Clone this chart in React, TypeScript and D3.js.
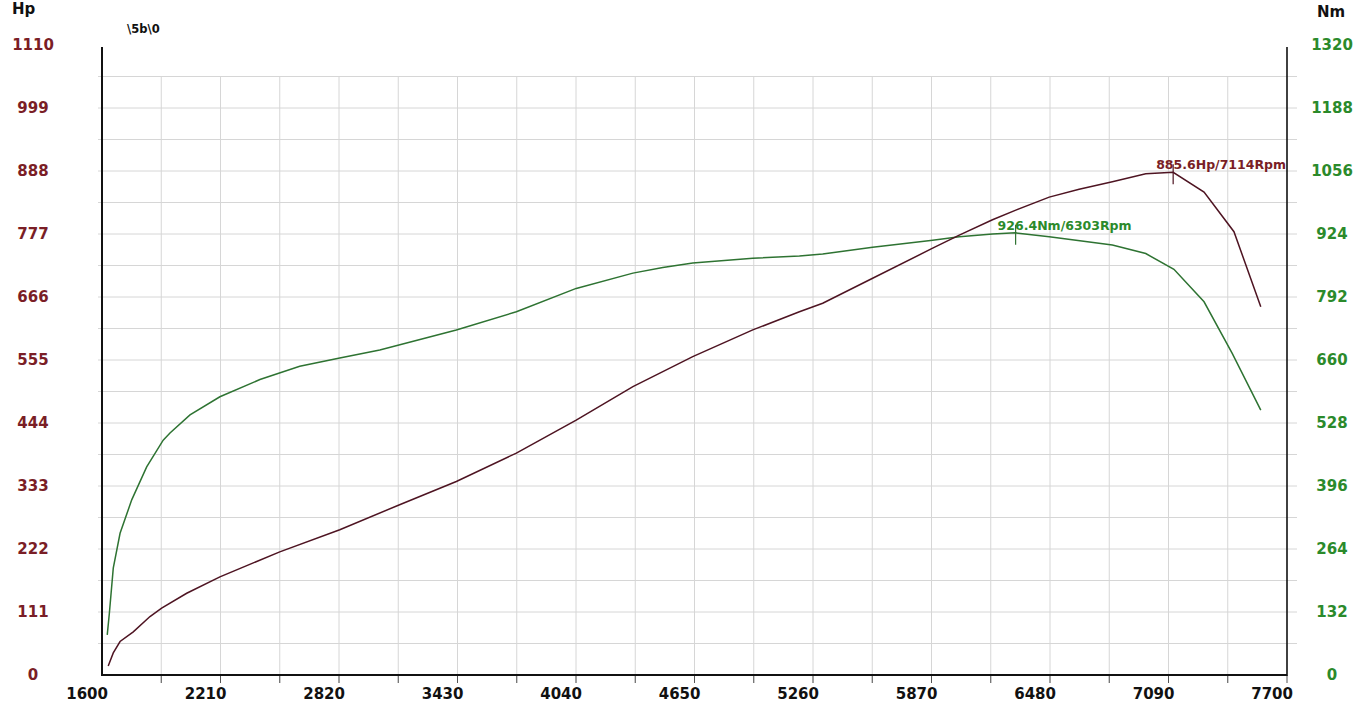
import React from "react";
import * as d3 from "d3";

const powerRpm = [1632, 1658, 1693, 1761, 1847, 1907, 2036, 2207, 2515, 2824, 3132, 3424, 3733, 4041, 4333, 4641, 4950, 5190, 5310, 5567, 5876, 6013, 6184, 6304, 6476, 6630, 6801, 6973, 7114, 7273, 7427, 7565];
const powerHp = [16, 39, 59, 76, 103, 118, 144, 173, 217, 256, 300, 341, 391, 449, 508, 561, 608, 640, 655, 699, 752, 775, 802, 819, 842, 856, 869, 883, 885.6, 851, 781, 649];

const torqueRpm = [1627, 1638, 1658, 1693, 1753, 1830, 1915, 1950, 2053, 2207, 2413, 2618, 2824, 3030, 3424, 3733, 4041, 4333, 4487, 4641, 4950, 5190, 5310, 5567, 5876, 6013, 6184, 6303, 6476, 6801, 6973, 7118, 7273, 7418, 7565];
const torqueNm = [84, 130, 224, 297, 367, 436, 492, 507, 545, 583, 619, 647, 664, 681, 723, 761, 810, 842, 854, 863, 873, 878, 882, 896, 911, 918, 924, 926.4, 918, 901, 883, 850, 782, 674, 555];

const rpmTicks = [1600, 2210, 2820, 3430, 4040, 4650, 5260, 5870, 6480, 7090, 7700];
const hpTicks = [0, 111, 222, 333, 444, 555, 666, 777, 888, 999, 1110];
const nmTicks = [0, 132, 264, 396, 528, 660, 792, 924, 1056, 1188, 1320];

const powerPeak = { rpm: 7114, value: 885.6 };
const torquePeak = { rpm: 6303, value: 926.4 };

const W = 1359;
const H = 721;
const left = 102;
const right = 1287;
const top = 45;
const bottom = 675;

const FONT = "'DejaVu Sans', Verdana, sans-serif";
const HP_COLOR = "#7a1e26";
const NM_COLOR = "#2b8a2b";
const POWER_LINE = "#4e1422";
const TORQUE_LINE = "#2e7332";

export default function App() {
  const x = d3.scaleLinear().domain([1600, 7700]).range([left, right]);
  const yHp = d3.scaleLinear().domain([0, 1110]).range([bottom, top]);
  const yNm = d3.scaleLinear().domain([0, 1320]).range([bottom, top]);

  const rpmGrid = d3.range(1, 20).map((k) => 1600 + 305 * k);
  const hpGrid = d3.range(1, 20).map((k) => 55.5 * k);
  const gridTop = yHp(hpGrid[hpGrid.length - 1]);

  const powerLine = d3
    .line<number>()
    .x((_, i) => x(powerRpm[i]))
    .y((d) => yHp(d))
    .curve(d3.curveLinear);
  const torqueLine = d3
    .line<number>()
    .x((_, i) => x(torqueRpm[i]))
    .y((d) => yNm(d))
    .curve(d3.curveLinear);

  const px = x(powerPeak.rpm);
  const py = yHp(powerPeak.value);
  const tx = x(torquePeak.rpm);
  const ty = yNm(torquePeak.value);

  return (
    <svg
      width={W}
      height={H}
      style={{ position: "absolute", left: 0, top: 0, background: "#fff" }}
      fontFamily={FONT}
    >
      <rect x={0} y={0} width={W} height={H} fill="#fff" />
      {hpGrid.map((v) => (
        <line key={"h" + v} x1={left - 4} x2={right + 10} y1={yHp(v)} y2={yHp(v)} stroke="#d6d6d6" strokeWidth={1} />
      ))}
      {rpmGrid.map((r) => (
        <line key={"v" + r} x1={x(r)} x2={x(r)} y1={gridTop} y2={bottom + 8} stroke="#d6d6d6" strokeWidth={1} />
      ))}
      {rpmGrid.concat([7700]).map((r) => (
        <line key={"t" + r} x1={x(r)} x2={x(r)} y1={bottom} y2={bottom + 8} stroke="#555" strokeWidth={1} />
      ))}
      <line x1={left} x2={left} y1={top + 2} y2={bottom + 1} stroke="#111" strokeWidth={2} />
      <line x1={right} x2={right} y1={top + 2} y2={bottom + 1} stroke="#111" strokeWidth={1.6} />
      <line x1={left} x2={right} y1={bottom} y2={bottom} stroke="#111" strokeWidth={2} />

      <path d={torqueLine(torqueNm) || ""} fill="none" stroke={TORQUE_LINE} strokeWidth={1.5} />
      <path d={powerLine(powerHp) || ""} fill="none" stroke={POWER_LINE} strokeWidth={1.5} />

      <line x1={px} x2={px} y1={py - 8} y2={py + 12} stroke={POWER_LINE} strokeWidth={1.2} />
      <text x={px - 17} y={py - 3} fontSize={12.5} fontWeight="bold" fill={HP_COLOR}>
        {`${powerPeak.value}Hp/${powerPeak.rpm}Rpm`}
      </text>
      <line x1={tx} x2={tx} y1={ty - 8} y2={ty + 12} stroke={TORQUE_LINE} strokeWidth={1.2} />
      <text x={tx - 18} y={ty - 3} fontSize={12.5} fontWeight="bold" fill={NM_COLOR}>
        {`${torquePeak.value}Nm/${torquePeak.rpm}Rpm`}
      </text>

      {hpTicks.map((v) => (
        <text key={"hl" + v} x={33} y={yHp(v)} dy="0.36em" textAnchor="middle" fontSize={15} fontWeight="bold" fill={HP_COLOR}>
          {v}
        </text>
      ))}
      {nmTicks.map((v) => (
        <text key={"nl" + v} x={1332} y={yNm(v)} dy="0.36em" textAnchor="middle" fontSize={15} fontWeight="bold" fill={NM_COLOR}>
          {v}
        </text>
      ))}
      {rpmTicks.map((r) => (
        <text key={"xl" + r} x={x(r) + 6} y={699} textAnchor="end" fontSize={15} fontWeight="bold" fill="#111">
          {r}
        </text>
      ))}

      <text x={12} y={14} fontSize={15} fontWeight="bold" fill="#111">Hp</text>
      <text x={1317} y={17} fontSize={15} fontWeight="bold" fill="#111">Nm</text>
      <text x={127} y={33} fontSize={11.5} fontWeight="bold" fill="#111">{"\\5b\\0"}</text>
    </svg>
  );
}
